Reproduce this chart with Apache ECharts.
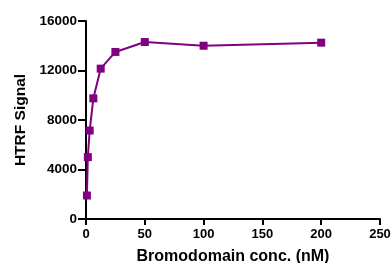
<!DOCTYPE html>
<html><head><meta charset="utf-8">
<script src="https://cdn.jsdelivr.net/npm/echarts@6/dist/echarts.min.js"></script>
<style>html,body{margin:0;padding:0;background:#fff}#c{width:392px;height:263px}</style>
</head><body><div id="c"></div>
<script>
const concentrations = [0.78, 1.56, 3.125, 6.25, 12.5, 25, 50, 100, 200];
const htrfSignal = [1900, 5000, 7150, 9750, 12150, 13500, 14300, 14000, 14250];
const xTicks = [0, 50, 100, 150, 200, 250];
const yTicks = [0, 4000, 8000, 12000, 16000];
const xTitle = 'Bromodomain conc. (nM)';
const yTitle = 'HTRF Signal';

const font = 'Liberation Sans, Arial, sans-serif';
const chart = echarts.init(document.getElementById('c'));
chart.setOption({
  animation: false,
  backgroundColor: '#fff',
  grid: {left: 86, right: 12, top: 21, bottom: 44, containLabel: false, outerBoundsMode: 'none'},
  xAxis: {
    type: 'value', min: xTicks[0], max: xTicks[xTicks.length-1], interval: 50,
    name: xTitle, nameLocation: 'middle', nameGap: 30,
    nameTextStyle: {fontFamily: font, fontWeight: 'bold', fontSize: 16, color: '#000'},
    axisLine: {lineStyle: {color: '#000', width: 2}},
    axisTick: {show: true, length: 6, lineStyle: {color: '#000', width: 2}},
    axisLabel: {fontFamily: font, fontWeight: 'bold', fontSize: 13, color: '#000', margin: 9,
      formatter: v => String(v)},
    splitLine: {show: false}
  },
  yAxis: {
    type: 'value', min: yTicks[0], max: yTicks[yTicks.length-1], interval: 4000,
    name: yTitle, nameLocation: 'middle', nameGap: 54,
    nameTextStyle: {fontFamily: font, fontWeight: 'bold', fontSize: 15.5, color: '#000'},
    axisLine: {show: true, lineStyle: {color: '#000', width: 2}},
    axisTick: {show: true, length: 8, lineStyle: {color: '#000', width: 2}},
    axisLabel: {fontFamily: font, fontWeight: 'bold', fontSize: 13.5, color: '#000', margin: 9,
      formatter: v => String(v)},
    splitLine: {show: false}
  },
  series: [{
    type: 'line',
    data: concentrations.map((c, i) => [c, htrfSignal[i]]),
    symbol: 'rect', symbolSize: 8,
    lineStyle: {color: '#800080', width: 2},
    itemStyle: {color: '#800080'}
  }]
});
</script></body></html>
